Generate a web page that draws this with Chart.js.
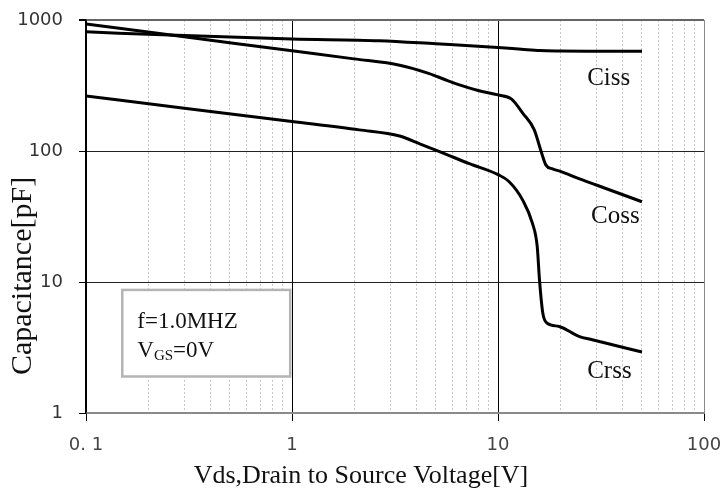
<!DOCTYPE html>
<html>
<head>
<meta charset="utf-8">
<script src="https://cdn.jsdelivr.net/npm/chart.js@4.4.1/dist/chart.umd.min.js"></script>
<style>
  html, body { margin: 0; padding: 0; background: #fff; }
</style>
</head>
<body>
<canvas id="cap-chart" width="723" height="494"></canvas>
<script>
// capacitance vs drain-source voltage
const cissV = [0.1, 0.3, 1, 2.65, 5, 10, 13, 16, 20, 30, 50];
const cissC = [812, 760, 716, 695, 658, 617, 598, 584, 580, 578, 577];

const cossV = [0.1, 0.3, 1, 2, 3.33, 4.64, 5.55, 6.5, 8, 10, 11.6, 13.2, 15, 16.2, 17.1, 18.4, 20.1, 24.7, 30, 50];
const cossC = [933, 745, 582, 505, 452, 390, 350, 320, 290, 268, 250, 194, 145, 99, 78, 73, 70, 61.5, 55, 41];

const crssV = [0.1, 0.3, 1, 2.12, 3.33, 4.2, 5.2, 7.26, 10, 11.3, 13.2, 14.7, 15.5, 15.9, 16.5, 17.3, 19.8, 24.7, 28.7, 50];
const crssC = [263, 212, 168, 145, 130, 113, 99, 80, 66, 58.5, 42, 28, 18.7, 10.4, 5.8, 4.86, 4.58, 3.84, 3.62, 2.92];

const curveNames = ["Ciss", "Coss", "Crss"];
const xTicks = [0.1, 1, 10, 100];
const xTickLabels = ["0. 1", "1", "10", "100"];
const yTicks = [1, 10, 100, 1000];
const yTickLabels = ["1", "10", "100", "1000"];

const isDecade = v => Math.abs(Math.log10(v) - Math.round(Math.log10(v))) < 1e-6;
const toPoints = (xs, ys) => xs.map((v, i) => ({ x: v, y: ys[i] }));

const serif = "'Liberation Serif', 'Times New Roman', serif";

// texts that sit on the plot: curve names, condition box, axis titles
const annotate = {
  id: "annotate",
  beforeDatasetsDraw(chart) {
    const { ctx, scales: { x, y } } = chart;
    const l = x.getPixelForValue(0.15), r = x.getPixelForValue(0.98);
    const t = y.getPixelForValue(8.7), b = y.getPixelForValue(1.9);
    ctx.save();
    ctx.fillStyle = "#fff";
    ctx.fillRect(l, t, r - l, b - t);
    ctx.strokeStyle = "#b4b4b4";
    ctx.lineWidth = 2.5;
    ctx.strokeRect(l, t, r - l, b - t);
    ctx.fillStyle = "#111";
    ctx.textBaseline = "alphabetic";
    ctx.textAlign = "left";
    ctx.font = "23px " + serif;
    ctx.fillText("f=1.0MHZ", l + 15, t + 38);
    let cx = l + 15;
    ctx.fillText("V", cx, t + 67);
    cx += ctx.measureText("V").width;
    ctx.font = "15px " + serif;
    ctx.fillText("GS", cx, t + 70);
    cx += ctx.measureText("GS").width;
    ctx.font = "23px " + serif;
    ctx.fillText("=0V", cx, t + 67);
    ctx.restore();
  },
  afterDraw(chart) {
    const { ctx, scales: { x, y } } = chart;
    const labelAt = [[27.1, 319], [28.3, 28.3], [27.1, 1.86]];
    ctx.save();
    ctx.fillStyle = "#111";
    ctx.font = "25px " + serif;
    ctx.textAlign = "left";
    ctx.textBaseline = "alphabetic";
    curveNames.forEach((name, i) => {
      ctx.fillText(name, x.getPixelForValue(labelAt[i][0]), y.getPixelForValue(labelAt[i][1]));
    });

    ctx.textAlign = "center";
    ctx.font = "26px " + serif;
    ctx.fillText("Vds,Drain to Source Voltage[V]", 361, 483);

    ctx.translate(31, 276);
    ctx.rotate(-Math.PI / 2);
    ctx.font = "30px " + serif;
    ctx.fillText("Capacitance[pF]", 0, 0);
    ctx.restore();
  }
};

const line = (name, xs, ys) => ({
  label: name,
  data: toPoints(xs, ys),
  borderColor: "#000",
  borderWidth: 3,
  pointRadius: 0,
  fill: false,
  cubicInterpolationMode: "monotone"
});

const capChart = new Chart("cap-chart", {
  type: "line",
  data: {
    datasets: [
      line(curveNames[0], cissV, cissC),
      line(curveNames[1], cossV, cossC),
      line(curveNames[2], crssV, crssC)
    ]
  },
  options: {
    responsive: false,
    animation: false,
    devicePixelRatio: 1,
    layout: { padding: { top: 20, right: 19, left: 0, bottom: 0 } },
    plugins: { legend: { display: false }, tooltip: { enabled: false } },
    scales: {
      x: {
        type: "logarithmic",
        min: 0.1,
        max: 100,
        afterBuildTicks: scale => {
          const ticks = [];
          for (let d = 0; d < xTicks.length - 1; d++) {
            for (let m = 1; m < 10; m++) ticks.push({ value: xTicks[d] * m });
          }
          ticks.push({ value: xTicks[xTicks.length - 1] });
          scale.ticks = ticks;
        },
        afterFit: scale => {
          scale.height = 81;
          scale.paddingLeft = 0;
          scale.paddingRight = 0;
        },
        ticks: {
          autoSkip: false,
          maxRotation: 0,
          padding: 14,
          color: "#444",
          font: { family: "'DejaVu Sans'", size: 18 },
          callback: value => {
            const i = xTicks.findIndex(t => Math.abs(t - value) < 1e-9);
            return i >= 0 ? xTickLabels[i] : "";
          }
        },
        grid: {
          color: ctx => {
            const v = ctx.tick.value;
            if (v === 100) return "#8a8a8a";
            return isDecade(v) ? "#000" : "#c8c8c8";
          },
          lineWidth: 1,
          tickLength: 8,
          tickColor: ctx => isDecade(ctx.tick.value) ? "#000" : "rgba(0,0,0,0)"
        },
        border: {
          color: "#8a8a8a",
          width: 1.5,
          dash: ctx => (ctx.tick && !isDecade(ctx.tick.value)) ? [2, 2] : []
        }
      },
      y: {
        type: "logarithmic",
        min: 1,
        max: 1000,
        afterBuildTicks: scale => { scale.ticks = yTicks.map(v => ({ value: v })); },
        afterFit: scale => {
          scale.width = 86;
          scale.paddingTop = 0;
          scale.paddingBottom = 0;
        },
        ticks: {
          padding: 16,
          color: "#333",
          font: { family: "'DejaVu Sans'", size: 18 },
          callback: value => {
            const i = yTicks.findIndex(t => Math.abs(t - value) < 1e-9);
            return i >= 0 ? yTickLabels[i] : null;
          }
        },
        grid: {
          color: ctx => {
            const v = ctx.tick.value;
            if (v === 1000) return "#666";
            if (v === 1) return "#8a8a8a";
            return "#222";
          },
          lineWidth: ctx => ctx.tick.value === 1000 ? 2 : 1,
          tickLength: 7,
          tickColor: "#000"
        },
        border: { color: "#000", width: 1.5 }
      }
    }
  },
  plugins: [annotate]
});
</script>
</body>
</html>
